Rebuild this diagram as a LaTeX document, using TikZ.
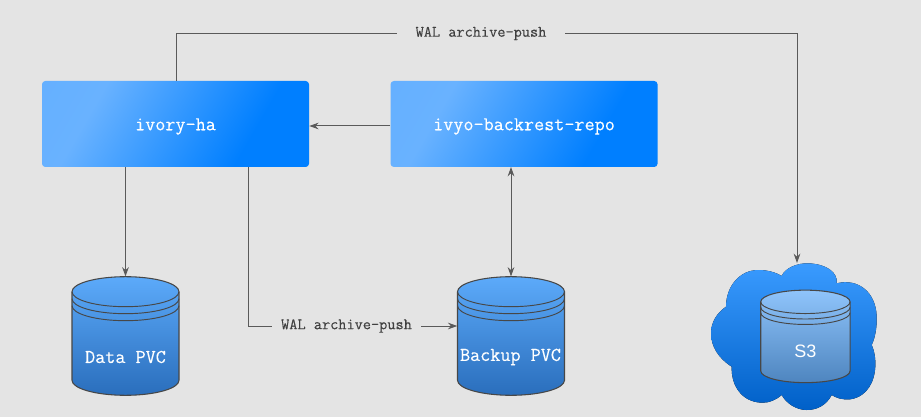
\documentclass[tikz,border=0pt]{standalone}
\usepackage{fontspec}
\setsansfont{Liberation Sans}
\setmonofont[FakeBold=0.25]{Latin Modern Mono}
\usepackage{xcolor}
\usepackage{tikz}
\usetikzlibrary{arrows.meta,positioning}
\definecolor{pagegray}{HTML}{E4E4E4}
\definecolor{linegray}{HTML}{5A5A5A}
\definecolor{rimgray}{HTML}{474747}
\definecolor{boxlight}{HTML}{69B2FF}
\definecolor{boxdark}{HTML}{007FFF}
\definecolor{pvctop}{HTML}{5CAAFA}
\definecolor{pvcbottom}{HTML}{2A6EBC}
\definecolor{s3top}{HTML}{8FC4FB}
\definecolor{s3bottom}{HTML}{4E85BF}
\definecolor{cloudhigh}{HTML}{3A9BFF}
\definecolor{cloudlow}{HTML}{0060C8}
\pgfdeclarehorizontalshading{boxfade}{100bp}{
  color(0bp)=(boxlight!92!boxdark); color(30bp)=(boxlight);
  color(68bp)=(boxdark); color(100bp)=(boxdark)}
\newcommand{\lowered}[1]{\raisebox{-4.7pt}[0pt][0pt]{#1}}
% storage drum: name, centre x, centre y, x scale, y scale, fill style
\newcommand{\drum}[6]{
  \begin{scope}[shift={(#2,#3)},xscale=#4,yscale=#5]
    \draw[rimgray,line width=0.8pt,#6]
      (-53.5,-44.3) -- (-53.5,44.3)
      .. controls (-53.5,52.6) and (-29.5,59.3) .. (0,59.3)
      .. controls (29.5,59.3) and (53.5,52.6) .. (53.5,44.3)
      -- (53.5,-44.3)
      .. controls (53.5,-52.6) and (29.5,-59.3) .. (0,-59.3)
      .. controls (-29.5,-59.3) and (-53.5,-52.6) .. (-53.5,-44.3) -- cycle;
    \foreach \rimdrop in {0,7,14} {
      \draw[rimgray,line width=0.7pt]
        (-53.5,-44.3+\rimdrop)
        .. controls (-53.5,-36+\rimdrop) and (-29.5,-29.3+\rimdrop) .. (0,-29.3+\rimdrop)
        .. controls (29.5,-29.3+\rimdrop) and (53.5,-36+\rimdrop) .. (53.5,-44.3+\rimdrop);
    }
  \end{scope}
  \node[inner sep=0pt,minimum width={80.25pt*#4},minimum height={88.95pt*#5}] (#1) at (#2,#3) {};
}

\begin{document}
\begin{tikzpicture}[
  x=0.75pt, y=-0.75pt,
  svcbox/.style={rounded corners=2.5pt, shade, shading=boxfade, shading angle=-30,
    minimum width=200.25pt, minimum height=64.5pt, inner sep=0pt,
    text=white, font=\fontsize{14.7}{16}\selectfont\ttfamily},
  pvcfill/.style={top color=pvctop, bottom color=pvcbottom},
  s3fill/.style={top color=s3top, bottom color=s3bottom},
  drumtext/.style={inner sep=0pt, text=white, font=\fontsize{14.7}{16}\selectfont\ttfamily},
  flowtext/.style={fill=pagegray, inner sep=0pt, minimum height=12pt, text=black!75,
    font=\fontsize{11.9}{13}\selectfont\ttfamily},
  arr/.style={-{Stealth[length=7pt,width=5pt]}, linegray, line width=0.75pt},
  plain/.style={linegray, line width=0.75pt},
]
\fill[pagegray] (0,0) rectangle (921,417);
\useasboundingbox (0,0) rectangle (921,417);

\node[svcbox] at (175.5,124) (ivory) {\lowered{ivory-ha}};
\node[svcbox, right=60.75pt of ivory] (repo) {\lowered{ivyo-backrest-repo}};

% cloud behind the S3 drum
\fill[top color=cloudhigh, bottom color=cloudlow] (781.7,276)
  .. controls (785,268) and (797,263) .. (808.3,263.3)
  .. controls (826,264) and (838,272) .. (836.7,283.3)
  .. controls (858,278) and (876,292) .. (876.7,316.7)
  .. controls (877,328) and (875,338) .. (871.7,345)
  .. controls (875,352) and (876,362) .. (875,370)
  .. controls (873,388) and (862,398) .. (850,399.3)
  .. controls (843,400) and (836,398) .. (831.7,395)
  .. controls (826,406) and (816,410) .. (806.7,410)
  .. controls (796,410) and (786,403) .. (781.7,395)
  .. controls (776,400) and (769,403) .. (761.7,402.7)
  .. controls (742,402) and (731,386) .. (731.7,366.7)
  .. controls (718,358) and (711,346) .. (711,333.3)
  .. controls (711,322) and (717,313) .. (726,306.7)
  .. controls (726,286) and (740,270) .. (758.3,270)
  .. controls (767,270) and (775,272) .. (781.7,276) -- cycle;
\coordinate (cloudtop) at (797,263);

\drum{datapvc}{125.5}{336}{1}{1}{pvcfill}
\drum{backuppvc}{511}{336}{1}{1}{pvcfill}
\drum{stores3}{805.4}{336.4}{0.835}{0.78}{s3fill}

\node[drumtext] at (125.5,357) (datatext) {Data PVC};
\node[drumtext] at (510.5,357) (backuptext) {Backup PVC};
\node[inner sep=0pt, text=white, font=\fontsize{13.5}{16}\selectfont\sffamily] at (805.4,351.5) (s3text) {S3};

\node[flowtext, minimum width=126pt] at (481,33.5) (walupper) {WAL archive-push};
\node[flowtext, minimum width=112pt] at (346.5,326) (wallower) {WAL archive-push};

\coordinate (ivoryup) at (176,81);
\coordinate (ivorydown) at (248,167);
\coordinate (datadrop) at (125.5,167);
\coordinate (repodrop) at (511,167);

\draw[plain] (ivoryup) |- (walupper);
\draw[arr] (walupper) -| (cloudtop);
\draw[arr] ([yshift=-1.5pt]repo.west) -- ([yshift=-1.5pt]ivory.east);
\draw[arr] (datadrop) -- (datapvc.north);
\draw[plain] (ivorydown) |- (wallower);
\draw[arr] (wallower) -- (backuppvc.west |- wallower);
\draw[{Stealth[length=7pt,width=5pt]}-{Stealth[length=7pt,width=5pt]}, linegray, line width=0.75pt]
  (repodrop) -- (backuppvc.north);

\end{tikzpicture}
\end{document}
